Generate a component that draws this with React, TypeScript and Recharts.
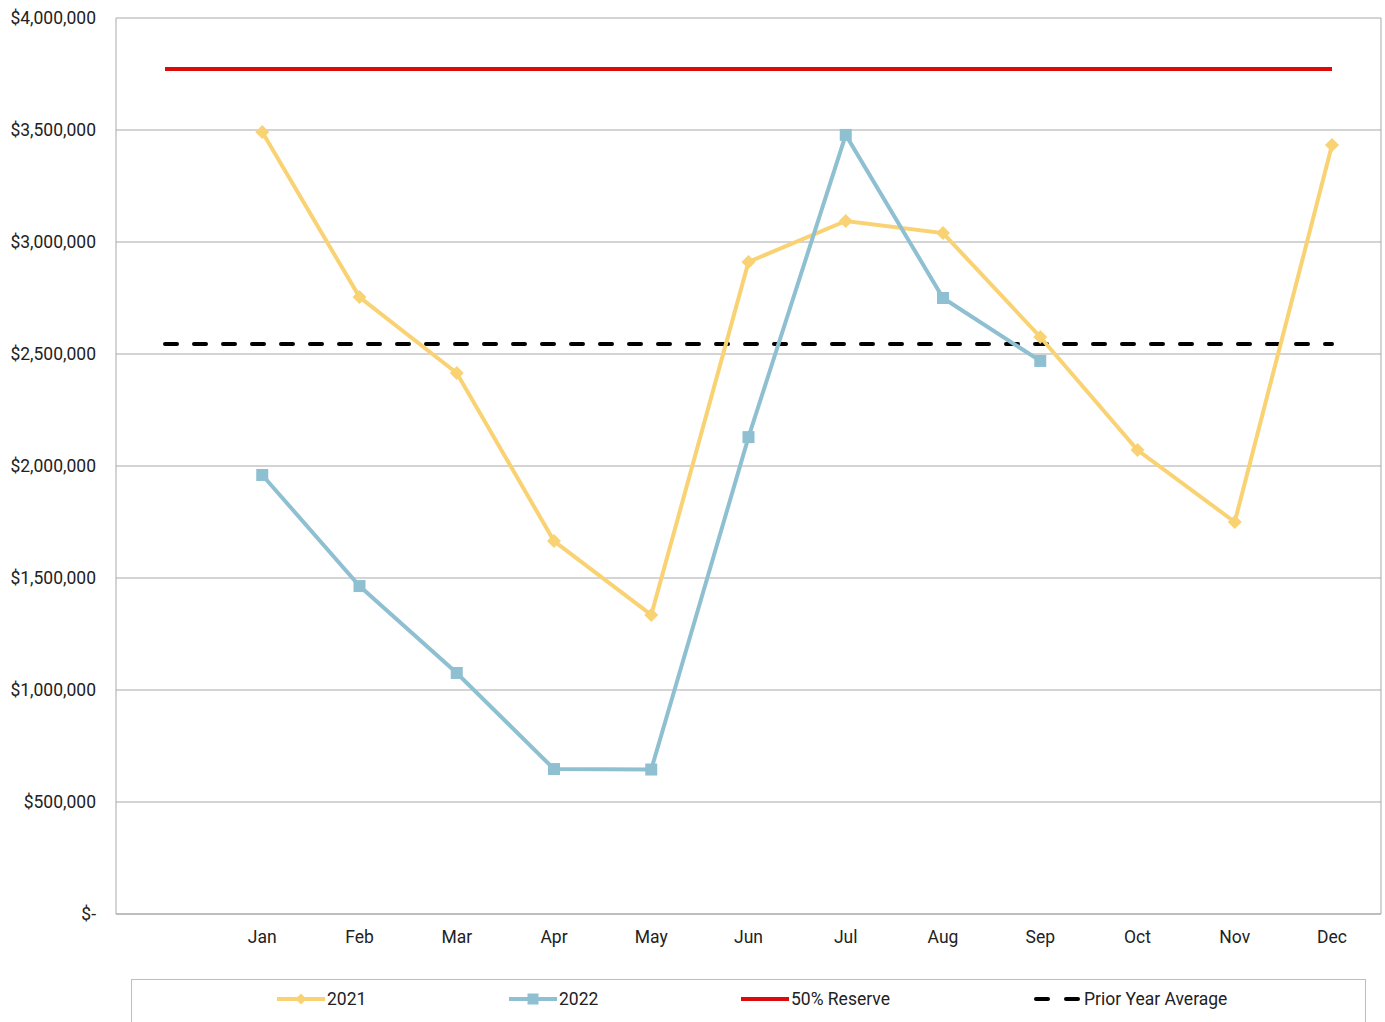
import React from "react";
import { LineChart, Line, XAxis, YAxis, CartesianGrid, Legend } from "recharts";

const months = ["", "Jan", "Feb", "Mar", "Apr", "May", "Jun", "Jul", "Aug", "Sep", "Oct", "Nov", "Dec"];
const values2021 = [null, 3491000, 2754000, 2415000, 1665000, 1335000, 2911000, 3094000, 3040000, 2576000, 2071000, 1750000, 3433000];
const values2022 = [null, 1960000, 1464000, 1076000, 647000, 645000, 2129000, 3478000, 2750000, 2469000, null, null, null];
const reserve = 3772000;
const priorYearAverage = 2545000;
const yTicks = [0, 500000, 1000000, 1500000, 2000000, 2500000, 3000000, 3500000, 4000000];

const data = months.map((m, i) => ({
  month: m,
  y2021: values2021[i],
  y2022: values2022[i],
  reserve,
  avg: priorYearAverage,
}));

const colors = {
  y2021: "#F9D273",
  y2022: "#8FC0D2",
  reserve: "#DD0A0A",
  avg: "#000000",
  grid: "#A9A9A9",
  text: "#222222",
};

const font = "Roboto, 'Liberation Sans', Arial, sans-serif";
const fontSize = 17.5;

const fmtMoney = (v: number) => (v === 0 ? "$-" : "$" + v.toLocaleString("en-US"));

const Diamond = (props: any) => {
  const { cx, cy } = props;
  if (cx == null || cy == null) return null;
  const r = 7;
  return <path d={`M${cx},${cy - r}L${cx + r},${cy}L${cx},${cy + r}L${cx - r},${cy}Z`} fill={colors.y2021} />;
};

const Square = (props: any) => {
  const { cx, cy } = props;
  if (cx == null || cy == null) return null;
  const s = 12;
  return <rect x={cx - s / 2} y={cy - s / 2} width={s} height={s} fill={colors.y2022} />;
};

const legendItems = [
  { label: "2021", color: colors.y2021, kind: "diamond", left: 276 },
  { label: "2022", color: colors.y2022, kind: "square", left: 508 },
  { label: "50% Reserve", color: colors.reserve, kind: "line", left: 740 },
  { label: "Prior Year Average", color: colors.avg, kind: "dash", left: 1033 },
];

const LegendBox = () => (
  <div
    style={{
      position: "absolute",
      left: 131,
      top: 979,
      width: 1235,
      height: 60,
      border: "1px solid #BDBDBD",
      boxSizing: "border-box",
      background: "#fff",
    }}
  >
    {legendItems.map((it) => (
      <div
        key={it.label}
        style={{
          position: "absolute",
          left: it.left - 131,
          top: 9,
          display: "flex",
          alignItems: "center",
          fontFamily: font,
          fontSize,
          color: colors.text,
        }}
      >
        <svg width={48} height={14} style={{ marginRight: 2 }}>
          {it.kind === "dash" ? (
            <>
              <line x1={2} y1={7} x2={14} y2={7} stroke={it.color} strokeWidth={4} strokeLinecap="round" />
              <line x1={32} y1={7} x2={44} y2={7} stroke={it.color} strokeWidth={4} strokeLinecap="round" />
            </>
          ) : (
            <line x1={0} y1={7} x2={48} y2={7} stroke={it.color} strokeWidth={4} />
          )}
          {it.kind === "diamond" && <path d="M24,1.5L29.5,7L24,12.5L18.5,7Z" fill={it.color} />}
          {it.kind === "square" && <rect x={18.5} y={1.5} width={11} height={11} fill={it.color} />}
        </svg>
        <span>{it.label}</span>
      </div>
    ))}
  </div>
);

export default function App() {
  return (
    <div style={{ position: "absolute", left: 0, top: 0, width: 1385, height: 1022, background: "#fff", overflow: "hidden" }}>
      <LineChart width={1385} height={1022} data={data} margin={{ top: 18, right: 0, bottom: 68, left: 0 }}>
        <CartesianGrid vertical={false} stroke={colors.grid} strokeWidth={1} />
        <XAxis
          dataKey="month"
          padding={{ left: 49, right: 49 }}
          tickLine={false}
          tickSize={0}
          tickMargin={17}
          axisLine={{ stroke: colors.grid }}
          tick={{ fill: colors.text, fontSize, fontFamily: font }}
          interval={0}
          height={40}
        />
        <YAxis
          domain={[0, 4000000]}
          ticks={yTicks}
          tickFormatter={fmtMoney}
          width={116}
          tickLine={false}
          tickSize={0}
          tickMargin={20}
          axisLine={{ stroke: colors.grid }}
          tick={{ fill: colors.text, fontSize, fontFamily: font }}
          allowDataOverflow
        />
        <YAxis
          yAxisId="right"
          orientation="right"
          width={4}
          tick={false}
          tickLine={false}
          axisLine={{ stroke: colors.grid }}
          domain={[0, 4000000]}
        />
        <Line
          dataKey="reserve"
          stroke={colors.reserve}
          strokeWidth={4}
          dot={false}
          activeDot={false}
          isAnimationActive={false}
        />
        <Line
          dataKey="avg"
          stroke={colors.avg}
          strokeWidth={4}
          strokeDasharray="12 17"
          strokeLinecap="round"
          dot={false}
          activeDot={false}
          isAnimationActive={false}
        />
        <Line
          dataKey="y2021"
          stroke={colors.y2021}
          strokeWidth={4}
          dot={<Diamond />}
          activeDot={false}
          isAnimationActive={false}
        />
        <Line
          dataKey="y2022"
          stroke={colors.y2022}
          strokeWidth={4}
          dot={<Square />}
          activeDot={false}
          isAnimationActive={false}
        />
        <Legend content={() => null} />
      </LineChart>
      <LegendBox />
    </div>
  );
}
